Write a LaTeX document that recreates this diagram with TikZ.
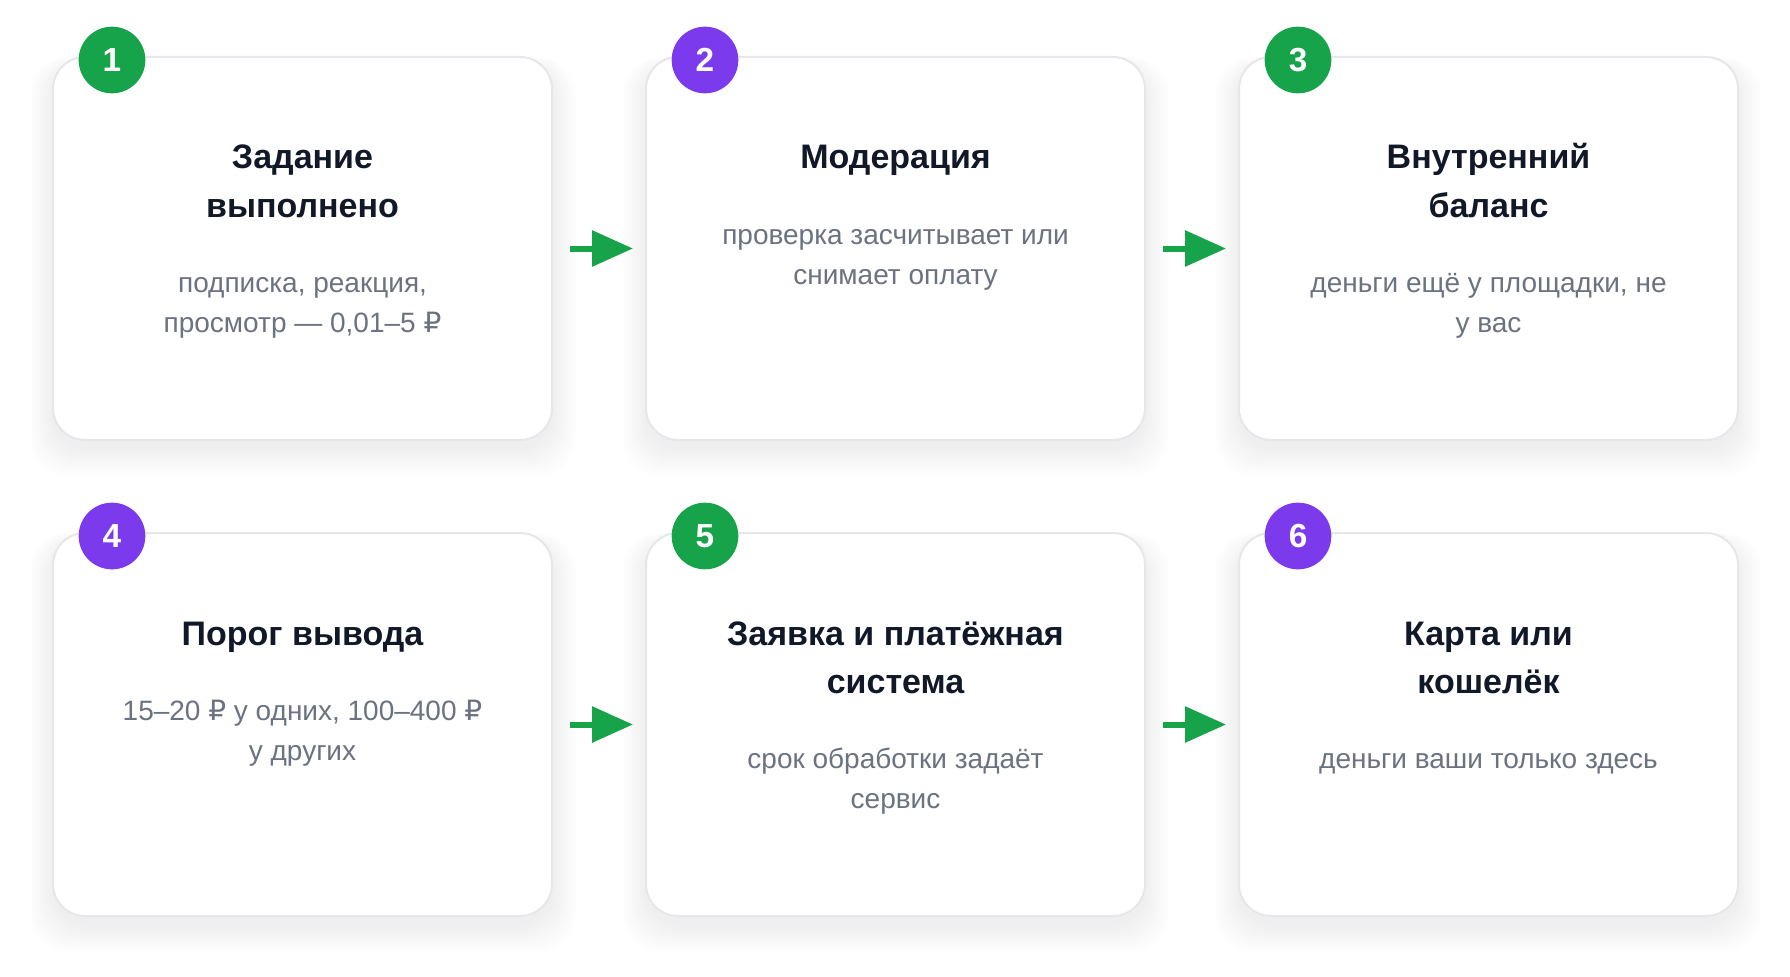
\documentclass[tikz,border=0pt]{standalone}
\usepackage{fontspec}
\setmainfont{Liberation Sans}
\newfontfamily\rubfont{DejaVu Sans}
\newcommand*{\rub}{{\rubfont ₽}}
\usetikzlibrary{arrows.meta,calc}

\definecolor{stepgreen}{HTML}{16A34A}
\definecolor{steppurple}{HTML}{7C3AED}
\definecolor{headtext}{HTML}{111827}
\definecolor{bodytext}{HTML}{6B7280}
\definecolor{cardline}{HTML}{E5E7EB}

\tikzset{
	card/.style={draw=cardline, line width=1.5pt, fill=white, rounded corners=24pt,
		minimum width=374.25pt, minimum height=287.25pt},
	cardshade/.style={fill=black, fill opacity=0.0035, draw=none, rounded corners=28pt},
	badge/.style={circle, fill=#1, text=white, minimum size=50pt, inner sep=0pt,
		font=\fontsize{25}{30}\selectfont\bfseries},
	head/.style={anchor=base, align=center, text=headtext, font=\fontsize{25.5}{36}\selectfont\bfseries},
	note/.style={anchor=base, align=center, text=bodytext, font=\fontsize{21}{30}\selectfont},
	flow/.style={-{Triangle[length=30.75pt,width=26.25pt]}, line width=4.5pt, stepgreen,
		shorten <=12.75pt, shorten >=9pt}
}

\begin{document}
\begin{tikzpicture}[x=0.75pt, y=-0.75pt]
	\fill[white] (0,0) rectangle (1790,977);

	% soft shadows under the cards
	\foreach \x in {302.5,895.5,1488.5}{
	\foreach \y in {248.5,724.5}{
	\foreach \k in {1,...,16}{
	\fill[cardshade] (\x-249.5-\k*1.5,\y-191.5-\k*0.5+8) rectangle (\x+249.5+\k*1.5,\y+191.5+\k*1.8+8);}}}

	% cards: number / centre / badge colour / title lines / text lines / title / text
	\foreach \i/\x/\y/\col/\nh/\nb/\head/\body in {
		1/302.5/248.5/stepgreen/2/2/{Задание\\выполнено}/{подписка, реакция,\\просмотр — 0,01–5 \rub},
		2/895.5/248.5/steppurple/1/2/{Модерация}/{проверка засчитывает или\\снимает оплату},
		3/1488.5/248.5/stepgreen/2/2/{Внутренний\\баланс}/{деньги ещё у площадки, не\\у вас},
		4/302.5/724.5/steppurple/1/2/{Порог вывода}/{15–20 \rub{} у одних, 100–400 \rub\\у других},
		5/895.5/724.5/stepgreen/2/2/{Заявка и платёжная\\система}/{срок обработки задаёт\\сервис},
		6/1488.5/724.5/steppurple/2/1/{Карта или\\кошелёк}/{деньги ваши только здесь}}{
	\node[card] (c\i) at (\x,\y) {};
	\node[badge=\col] (b\i) at ($(c\i.north west)+(60,4)$) {\i};
	\node[head] (t\i) at ($(c\i.north)+(0,{65+48*\nh})$) {\head};
	\node[note] (n\i) at ($(t\i.base)+(0,{35+40*\nb})$) {\body};}

	% arrows between steps
	\draw[flow] (c1) -- (c2);
	\draw[flow] (c2) -- (c3);
	\draw[flow] (c4) -- (c5);
	\draw[flow] (c5) -- (c6);

\end{tikzpicture}
\end{document}
